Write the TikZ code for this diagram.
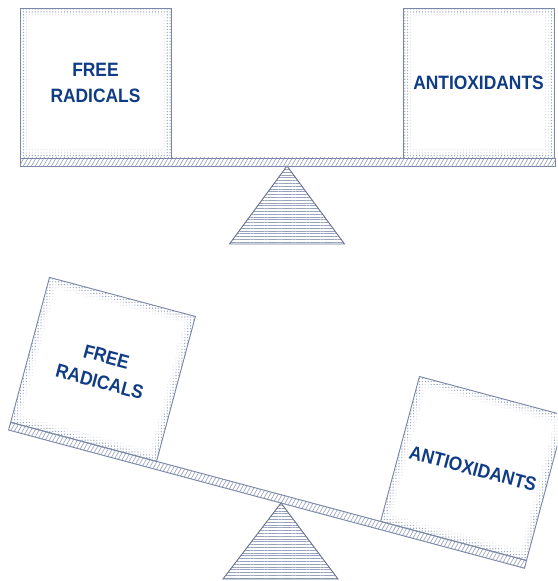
\documentclass[tikz,border=0pt]{standalone}
\usepackage{fontspec}
\setmainfont{Liberation Sans}
\newfontfamily\weightfont[FakeStretch=0.9]{Liberation Sans}
\usetikzlibrary{patterns.meta}

\definecolor{edgeblue}{HTML}{7B87A8}
\definecolor{dotblue}{HTML}{9CA6C0}
\definecolor{hatchblue}{HTML}{98A2BC}
\definecolor{textblue}{HTML}{103C86}

\tikzset{
  weight/.style={draw=edgeblue, line width=0.7pt, pattern={Dots[radius=0.55pt,distance=2.2pt]}, pattern color=dotblue},
  beam/.style={draw=edgeblue, line width=0.7pt, pattern={Lines[angle=60,distance=2.6pt,line width=0.5pt]}, pattern color=hatchblue},
  fulcrum/.style={draw=edgeblue!85!black, line width=0.7pt, pattern={Lines[angle=0,distance=2.1pt,line width=0.6pt]}, pattern color=hatchblue},
  weighttext/.style={font=\weightfont\bfseries\fontsize{14.5}{19.5}\selectfont, text=textblue, align=center}
}

% one weight standing on the beam: name, left end along the beam, text
\newcommand{\weightbox}[3]{%
  \draw[weight] (#2,8) rectangle ++(151,150);
  \fill[white,opacity=0.7] (#2+5,13) rectangle ++(141,140);
  \fill[white] (#2+9,17) rectangle ++(133,132);
  \node[weighttext] (#1) at (#2+75.5,83) {#3};
}

\begin{document}
\begin{tikzpicture}[x=0.75pt,y=0.75pt]
	\useasboundingbox (0,0) rectangle (557,581);
	\clip (0,0) rectangle (557,581);

	\coordinate (topapex) at (287,415);
	\coordinate (botapex) at (281,78);

%	balanced
	\begin{scope}[shift={(topapex)}]
		\draw[fulcrum] (0,0) -- (-57.5,-78) -- (57.5,-78) -- cycle;
		\draw[beam] (-267,0) rectangle (268,8);
		\weightbox{topfree}{-267}{FREE\\RADICALS}
		\weightbox{topanti}{116}{ANTIOXIDANTS}
	\end{scope}

%	tipped
	\begin{scope}[shift={(botapex)}]
		\draw[fulcrum] (0,0) -- (-58,-76) -- (57,-76) -- cycle;
		\begin{scope}[rotate=-15, transform shape]
			\draw[beam] (-282,0) rectangle (252,8);
			\weightbox{botfree}{-282}{FREE\\RADICALS}
			\weightbox{botanti}{101}{ANTIOXIDANTS}
		\end{scope}
	\end{scope}
\end{tikzpicture}
\end{document}
